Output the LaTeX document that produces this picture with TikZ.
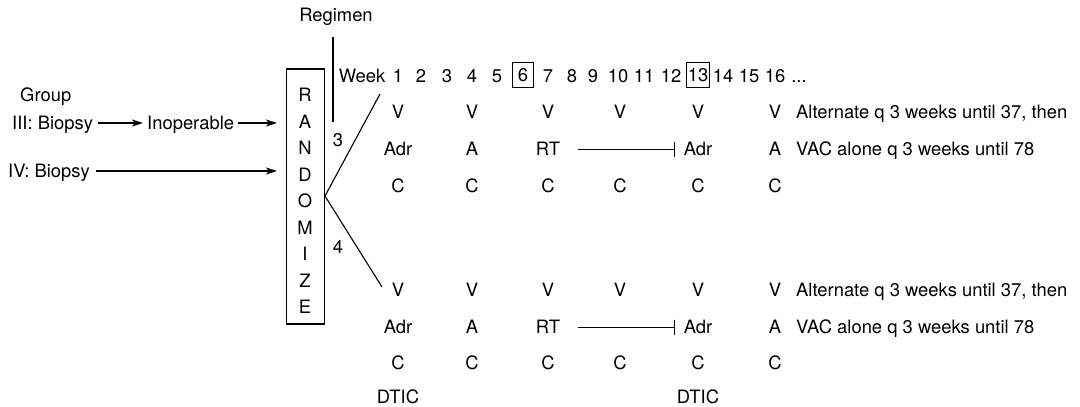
\documentclass[tikz,border=0pt]{standalone}
\usepackage{fontspec}
\setmainfont{TeX Gyre Heros}
\usetikzlibrary{arrows.meta}
\begin{document}
\begin{tikzpicture}[x=1pt,y=-1pt,
  txt/.style={inner sep=0pt, text height=13pt, text depth=0pt, font=\fontsize{18.4}{20}\selectfont},
  boxednum/.style={txt, draw, line width=1pt, minimum width=21pt, minimum height=25pt, inner sep=1pt},
  ln/.style={line width=1.1pt},
  arr/.style={ln, -{Stealth[length=11pt,width=7pt,inset=3pt]}},
  barln/.style={line width=0.8pt, -{Bar[width=15pt,line width=1pt]}},
]
\useasboundingbox (0,0) rectangle (1080,407);

% left labels
\node[txt, anchor=west] (group) at (20,95) {Group};
\node[txt, anchor=west] (iii) at (12,123) {III: Biopsy};
\node[txt, anchor=west] (inop) at (147,123) {Inoperable};
\node[txt, anchor=west] (iv) at (8,171) {IV: Biopsy};

% randomize box
\node[draw, ln, minimum width=38pt, minimum height=255pt, inner sep=0pt] (box) at (305.5,196.5) {};
\foreach \l [count=\i from 0] in {R,A,N,D,O,M,I,Z,E}
  \node[txt] (L\i) at (305,{95+26.5*\i}) {\l};

\draw[arr, shorten <=5pt, shorten >=4pt] (iii.east) -- (inop.west);
\draw[arr, shorten <=4pt, shorten >=9pt] (inop.east) -- (box.west |- inop.east);
\draw[arr, shorten <=6pt, shorten >=9pt] (iv.east) -- (box.west |- iv.east);

% regimen
\node[txt] (reg) at (336,15) {Regimen};
\coordinate (regtop) at (333,37);
\coordinate (regbot) at (333,122);
\draw[ln] (regtop) -- (regbot);
\node[txt] (n3) at (338,140) {3};
\node[txt] (n4) at (338,247) {4};

% branches
\coordinate (fork) at (325,196);
\coordinate (r3) at (380,94);
\coordinate (r4) at (382,287);
\draw[ln] (fork) -- (r3);
\draw[ln] (fork) -- (r4);

% week row
\node[txt] (week) at (362,76) {Week};
\foreach \n/\x in {1/398,2/421,3/447,4/472,5/497,7/548,8/572,9/593,10/618,11/644,12/671,14/723,15/749,16/775}
  \node[txt] (w\n) at (\x,76) {\n};
\node[boxednum] (w6) at (523,74.5) {6};
\node[boxednum] (w13) at (698,74.5) {13};
\node[txt] (dots) at (799,76) {...};

% regimen rows
\foreach \c/\x in {1/398,2/472,3/548,4/620,5/698,6/775} {
  \node[txt] (uv\c) at (\x,112) {V};
  \node[txt] (uc\c) at (\x,186) {C};
  \node[txt] (lv\c) at (\x,290) {V};
  \node[txt] (lc\c) at (\x,363) {C};
}
\node[txt] (ua1) at (398,149) {Adr};
\node[txt] (ua2) at (472,149) {A};
\node[txt] (ua3) at (548,149) {RT};
\node[txt] (ua5) at (698,149) {Adr};
\node[txt] (ua6) at (775,149) {A};
\node[txt] (la1) at (398,327) {Adr};
\node[txt] (la2) at (472,327) {A};
\node[txt] (la3) at (548,327) {RT};
\node[txt] (la5) at (698,327) {Adr};
\node[txt] (la6) at (775,327) {A};
\node[txt] (ld1) at (398,397) {DTIC};
\node[txt] (ld5) at (698,397) {DTIC};

\draw[barln, shorten <=18pt, shorten >=9pt] (ua3.east) -- (ua5.west);
\draw[barln, shorten <=18pt, shorten >=9pt] (la3.east) -- (la5.west);

% right notes
\node[txt, anchor=west] (ut1) at (796,112) {Alternate q 3 weeks until 37, then};
\node[txt, anchor=west] (ut2) at (796,149) {VAC alone q 3 weeks until 78};
\node[txt, anchor=west] (lt1) at (796,290) {Alternate q 3 weeks until 37, then};
\node[txt, anchor=west] (lt2) at (796,327) {VAC alone q 3 weeks until 78};
\end{tikzpicture}
\end{document}
